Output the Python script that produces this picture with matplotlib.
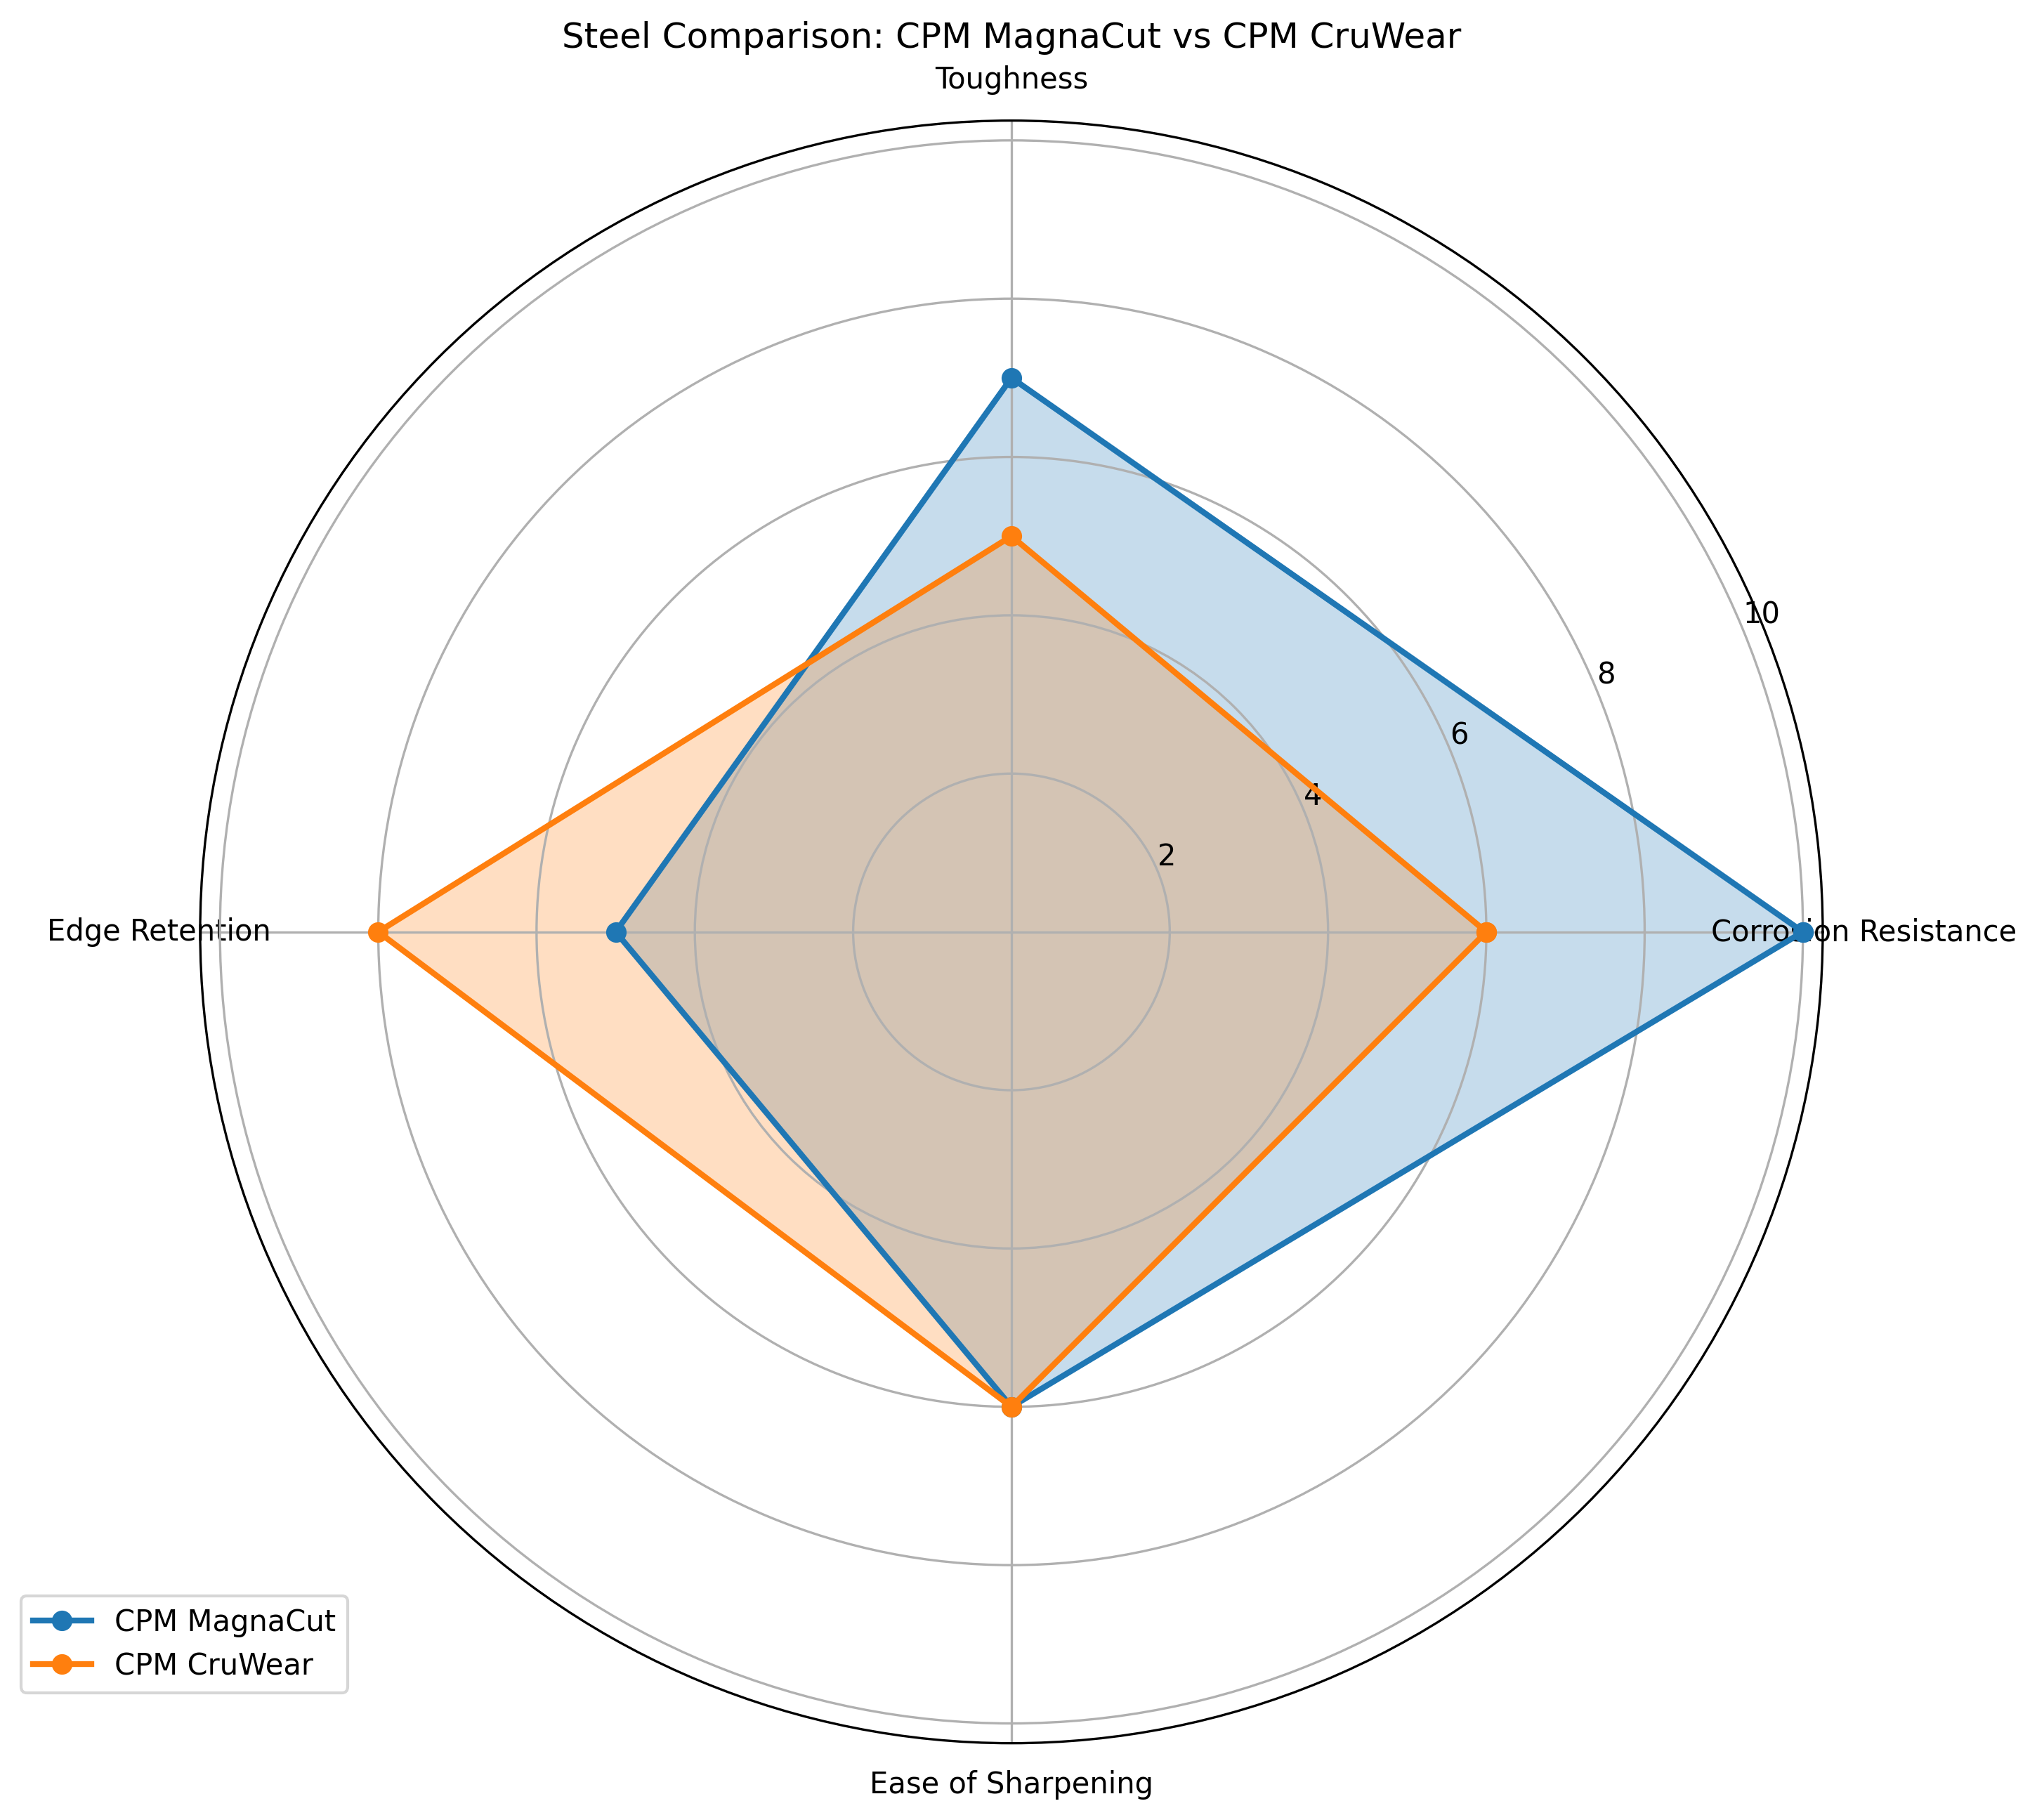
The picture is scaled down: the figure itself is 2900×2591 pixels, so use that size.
import matplotlib.pyplot as plt
import numpy as np

categories = ["Corrosion Resistance", "Toughness", "Edge Retention", "Ease of Sharpening"]
magnacut = [10, 7, 5, 6]
cruwear = [6, 5, 8, 6]
steels = ["CPM MagnaCut", "CPM CruWear"]


def close(values):
    return list(values) + [values[0]]


angles = np.linspace(0, 2 * np.pi, len(categories), endpoint=False).tolist()
angles_closed = angles + [angles[0]]

fig, ax = plt.subplots(figsize=(10, 10), subplot_kw=dict(polar=True))

for name, values in zip(steels, [magnacut, cruwear]):
    ax.plot(angles_closed, close(values), "o-", linewidth=2, label=name)
    ax.fill(angles_closed, close(values), alpha=0.25)

ax.set_xticks(angles)
ax.set_xticklabels(categories)
ax.set_title("Steel Comparison: CPM MagnaCut vs CPM CruWear")
ax.legend(loc="upper right", bbox_to_anchor=(0.1, 0.1))

plt.savefig("out.png", dpi=300, bbox_inches="tight")
